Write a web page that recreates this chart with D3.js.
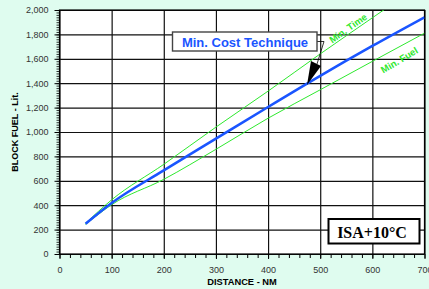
<!DOCTYPE html>
<html>
<head>
<meta charset="utf-8">
<script src="https://cdn.jsdelivr.net/npm/d3@7"></script>
<style>
  body { margin: 0; background: #dffcef; }
  svg { display: block; }
</style>
</head>
<body>
<svg class="chart"></svg>
<script>
// values
var distances = [50, 100, 200, 300, 400, 500, 600, 700];
var minCost   = [248, 418, 685, 945, 1205, 1460, 1705, 1940];
var minTime   = [252, 444, 735, 1040, 1335, 1640, 1936, 2230];
var minFuel   = [242, 404, 612, 858, 1113, 1346, 1579, 1810];
var xTicks = [0, 100, 200, 300, 400, 500, 600, 700];
var yTicks = [0, 200, 400, 600, 800, 1000, 1200, 1400, 1600, 1800, 2000];

var W = 429, H = 289;
var margin = {top: 10, right: 4.5, bottom: 35, left: 59.5};

var chart = d3.select('.chart')
    .attr("width", W)
    .attr("height", H);

chart.append("rect").attr("width", W).attr("height", H).attr("fill", "#dffcef");

var xScale = d3.scaleLinear().domain([0, 700]).range([margin.left, W - margin.right]);
var yScale = d3.scaleLinear().domain([0, 2000]).range([H - margin.bottom, margin.top]);

// plot area
chart.append("rect")
    .attr("x", xScale(0)).attr("y", yScale(2000))
    .attr("width", xScale(700) - xScale(0))
    .attr("height", yScale(0) - yScale(2000))
    .attr("fill", "#fff");

// gridlines
chart.append("g")
    .attr("transform", "translate(0," + yScale(0) + ")")
    .call(d3.axisBottom(xScale).tickValues(xTicks).tickSize(-(yScale(0) - yScale(2000))).tickFormat(""))
    .call(function(g){ g.select(".domain").remove(); g.selectAll("line").attr("stroke", "#111").attr("stroke-width", 1.2); });

chart.append("g")
    .attr("transform", "translate(" + xScale(0) + ",0)")
    .call(d3.axisLeft(yScale).tickValues(yTicks).tickSize(-(xScale(700) - xScale(0))).tickFormat(""))
    .call(function(g){ g.select(".domain").remove(); g.selectAll("line").attr("stroke", "#111").attr("stroke-width", 1.2); });

// minor ticks
chart.append("g")
    .attr("transform", "translate(0," + yScale(0) + ")")
    .call(d3.axisBottom(xScale).tickValues(d3.range(0, 701, 20)).tickSize(4).tickFormat(""))
    .call(function(g){ g.select(".domain").remove(); g.selectAll("line").attr("stroke", "#000"); });

chart.append("g")
    .attr("transform", "translate(" + xScale(0) + ",0)")
    .call(d3.axisLeft(yScale).tickValues(d3.range(0, 2001, 20)).tickSize(3).tickFormat(""))
    .call(function(g){ g.select(".domain").remove(); g.selectAll("line").attr("stroke", "#000").attr("stroke-width", 0.8); });

// main axes with labels
var xAxis = chart.append("g")
    .attr("transform", "translate(0," + yScale(0) + ")")
    .call(d3.axisBottom(xScale).tickValues(xTicks).tickSize(5).tickPadding(8).tickFormat(d3.format("d")));
xAxis.select(".domain").remove();
xAxis.selectAll("line").attr("stroke", "#000");
xAxis.selectAll("text").attr("font-family", "Arial, 'Liberation Sans', sans-serif").attr("font-size", 9).attr("fill", "#333");

var yAxis = chart.append("g")
    .attr("transform", "translate(" + xScale(0) + ",0)")
    .call(d3.axisLeft(yScale).tickValues(yTicks).tickSize(5).tickPadding(6).tickFormat(d3.format(",")));
yAxis.select(".domain").remove();
yAxis.selectAll("line").attr("stroke", "#000");
yAxis.selectAll("text").attr("font-family", "Arial, 'Liberation Sans', sans-serif").attr("font-size", 9).attr("fill", "#333");

// frame
chart.append("rect")
    .attr("x", xScale(0)).attr("y", yScale(2000))
    .attr("width", xScale(700) - xScale(0))
    .attr("height", yScale(0) - yScale(2000))
    .attr("fill", "none").attr("stroke", "#000").attr("stroke-width", 1.2);

// axis titles
chart.append("text")
    .attr("x", (xScale(0) + xScale(700)) / 2).attr("y", 285)
    .attr("text-anchor", "middle")
    .attr("font-family", "Arial, 'Liberation Sans', sans-serif").attr("font-size", 9.3).attr("font-weight", "bold")
    .text("DISTANCE - NM");

chart.append("text")
    .attr("transform", "translate(18," + (yScale(0) + yScale(2000)) / 2 + ") rotate(-90)")
    .attr("text-anchor", "middle")
    .attr("font-family", "Arial, 'Liberation Sans', sans-serif").attr("font-size", 9).attr("font-weight", "bold")
    .text("BLOCK FUEL - Lit.");

// lines
chart.append("clipPath").attr("id", "plotclip").append("rect")
    .attr("x", xScale(0)).attr("y", yScale(2000))
    .attr("width", xScale(700) - xScale(0))
    .attr("height", yScale(0) - yScale(2000));

var line = d3.line()
    .curve(d3.curveMonotoneX)
    .x(function(d){ return xScale(d[0]); })
    .y(function(d){ return yScale(d[1]); });

var lines = chart.append("g").attr("clip-path", "url(#plotclip)");
[[minTime, "#2ee82e", 1], [minFuel, "#2ee82e", 1], [minCost, "#1a55ff", 2.6]].forEach(function(s){
  lines.append("path")
      .attr("d", line(d3.zip(distances, s[0])))
      .attr("fill", "none")
      .attr("stroke", s[1])
      .attr("stroke-width", s[2]);
});

// green line labels
chart.append("text")
    .attr("transform", "translate(350,31) rotate(-35)")
    .attr("text-anchor", "middle")
    .attr("font-family", "Arial, 'Liberation Sans', sans-serif").attr("font-size", 9.5).attr("font-weight", "bold")
    .attr("fill", "#2ee82e")
    .text("Min. Time");

chart.append("text")
    .attr("transform", "translate(401,63) rotate(-31)")
    .attr("text-anchor", "middle")
    .attr("font-family", "Arial, 'Liberation Sans', sans-serif").attr("font-size", 9.5).attr("font-weight", "bold")
    .attr("fill", "#2ee82e")
    .text("Min. Fuel");

// callout
chart.append("path")
    .attr("d", "M317,41.5 L324,41.5 L317,64")
    .attr("fill", "none").attr("stroke", "#000").attr("stroke-width", 0.8);
chart.append("path")
    .attr("d", "M311,61 L321,66 L307,85 Z")
    .attr("fill", "#000");

chart.append("rect")
    .attr("x", 172.5).attr("y", 32).attr("width", 144.5).attr("height", 19)
    .attr("fill", "#fff").attr("stroke", "#444").attr("stroke-width", 1.4);
chart.append("text")
    .attr("x", 245).attr("y", 46.5)
    .attr("text-anchor", "middle")
    .attr("font-family", "Arial, 'Liberation Sans', sans-serif").attr("font-size", 13).attr("font-weight", "bold")
    .attr("fill", "#1a55ff")
    .text("Min. Cost Technique");

// ISA box
chart.append("rect")
    .attr("x", 328.5).attr("y", 219).attr("width", 91).attr("height", 24.5)
    .attr("fill", "#fff").attr("stroke", "#000").attr("stroke-width", 2);
chart.append("text")
    .attr("x", 372).attr("y", 237.5)
    .attr("text-anchor", "middle")
    .attr("font-family", "'Times New Roman', 'Liberation Serif', serif").attr("font-size", 16).attr("font-weight", "bold")
    .attr("fill", "#000")
    .text("ISA+10°C");
</script>
</body>
</html>
